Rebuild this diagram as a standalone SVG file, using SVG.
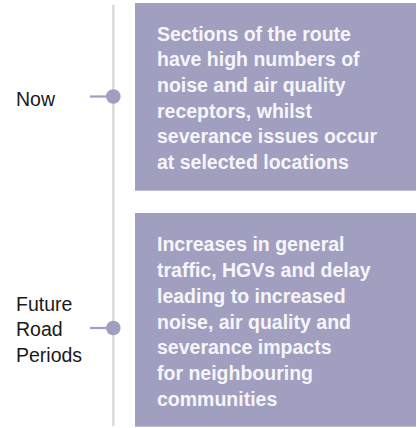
<svg xmlns="http://www.w3.org/2000/svg" width="417" height="428" viewBox="0 0 417 428">
<style>
.box{fill:#a19fc0}
.body{font-family:"Liberation Sans",Arial,sans-serif;font-weight:bold;font-size:19.5px;fill:#f6f5fa}
.lbl{font-family:"Liberation Sans",Arial,sans-serif;font-size:19.5px;fill:#1a1a1a}
.tick{stroke:#a19fc0;stroke-width:2.2}
.dot{fill:#a19fc0}
</style>
<rect width="417" height="428" fill="#ffffff"/>
<g id="connectors">
<line x1="113.3" y1="4.7" x2="113.3" y2="426" stroke="#d6d6d6" stroke-width="2.2"/>
<line class="tick" x1="90" y1="96.5" x2="108" y2="96.5"/>
<line class="tick" x1="90" y1="328" x2="108" y2="328"/>
</g>
<g id="now">
<text class="lbl" x="16" y="106">Now</text>
<circle class="dot" cx="113.3" cy="96.5" r="7.3"/>
</g>
<g id="box-now">
<rect class="box" x="135" y="3" width="281" height="187.7"/>
<text class="body" x="157">
<tspan x="157" y="40.7">Sections of the route</tspan>
<tspan x="157" y="66.3">have high numbers of</tspan>
<tspan x="157" y="91.9">noise and air quality</tspan>
<tspan x="157" y="117.5">receptors, whilst</tspan>
<tspan x="157" y="143.1">severance issues occur</tspan>
<tspan x="157" y="168.7">at selected locations</tspan>
</text>
</g>
<g id="future">
<text class="lbl">
<tspan x="16" y="310.7">Future</tspan>
<tspan x="16" y="336.2">Road</tspan>
<tspan x="16" y="361.7">Periods</tspan>
</text>
<circle class="dot" cx="113.3" cy="328" r="7.3"/>
</g>
<g id="box-future">
<rect class="box" x="135" y="213" width="281" height="213.7"/>
<text class="body">
<tspan x="157" y="251.3">Increases in general</tspan>
<tspan x="157" y="277">traffic, HGVs and delay</tspan>
<tspan x="157" y="302.8">leading to increased</tspan>
<tspan x="157" y="328.5">noise, air quality and</tspan>
<tspan x="157" y="354.3">severance impacts</tspan>
<tspan x="157" y="380">for neighbouring</tspan>
<tspan x="157" y="405.8">communities</tspan>
</text>
</g>
</svg>
